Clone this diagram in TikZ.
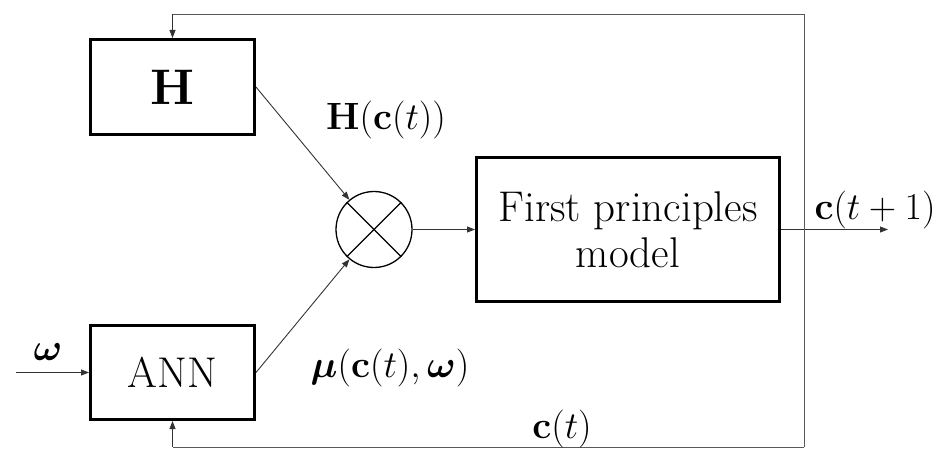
\RequirePackage{fix-cm}
\documentclass[tikz,border=0pt]{standalone}
\usepackage{amsmath}
\DeclareMathSizes{38}{38}{27}{19}
\DeclareMathSizes{50}{50}{36}{25}
\usetikzlibrary{arrows.meta}
\tikzset{
  blockbox/.style={draw=black, line width=3pt, inner sep=0pt, align=center},
  conn/.style={draw=black!80, line width=0.9pt, -{Triangle[length=8pt,width=6pt]}},
  fbline/.style={draw=black!65, line width=0.9pt},
  lbl/.style={inner sep=0pt, font=\fontsize{38}{42}\selectfont},
}
\begin{document}
\begin{tikzpicture}[x=1pt,y=-1pt]
\useasboundingbox (0,0) rectangle (950,449);
\node[blockbox, minimum width=164pt, minimum height=95pt, font=\fontsize{50}{56}\selectfont] (H) at (172.5,87) {$\mathbf{H}$};
\node[blockbox, minimum width=164pt, minimum height=94pt, font=\rmfamily\fontsize{43}{46}\selectfont] (ANN) at (172.5,372.5) {ANN};
\node[blockbox, minimum width=303pt, minimum height=144pt, font=\rmfamily\fontsize{43}{46}\selectfont] (FP) at (628,229.5) {First principles\\model};
\node[draw=black, line width=1.3pt, circle, minimum size=76pt, inner sep=0pt] (X) at (374,229.5) {};
\draw[line width=1.1pt] (X.north west) -- (X.south east) (X.north east) -- (X.south west);

\coordinate (win) at (16,372.5);
\coordinate (out) at (888,229.5);
\coordinate (jt) at (804,14);
\coordinate (jb) at (804,447);
\coordinate (tl) at (172.5,14);
\coordinate (bl) at (172.5,447);

\draw[conn] (H.east) -- (X);
\draw[conn] (ANN.east) -- (X);
\draw[conn] (X) -- (FP.west);
\draw[conn] (FP.east) -- (out);
\draw[conn] (win) -- (ANN.west);
\draw[fbline] (jt) -- (jb);
\draw[fbline] (jt) -- (tl);
\draw[fbline] (jb) -- (bl);
\draw[conn] (tl) -- (H.north);
\draw[conn] (bl) -- (ANN.south);

\node[lbl] (lH) at (386,120) {$\mathbf{H}(\mathbf{c}(t))$};
\node[lbl] (lmu) at (390,368) {$\boldsymbol{\mu}(\mathbf{c}(t),\boldsymbol{\omega})$};
\node[lbl] (lc) at (562,429) {$\mathbf{c}(t)$};
\node[lbl] (lout) at (875,210) {$\mathbf{c}(t+1)$};
\node[lbl] (lw) at (48,352) {$\boldsymbol{\omega}$};
\end{tikzpicture}
\end{document}
